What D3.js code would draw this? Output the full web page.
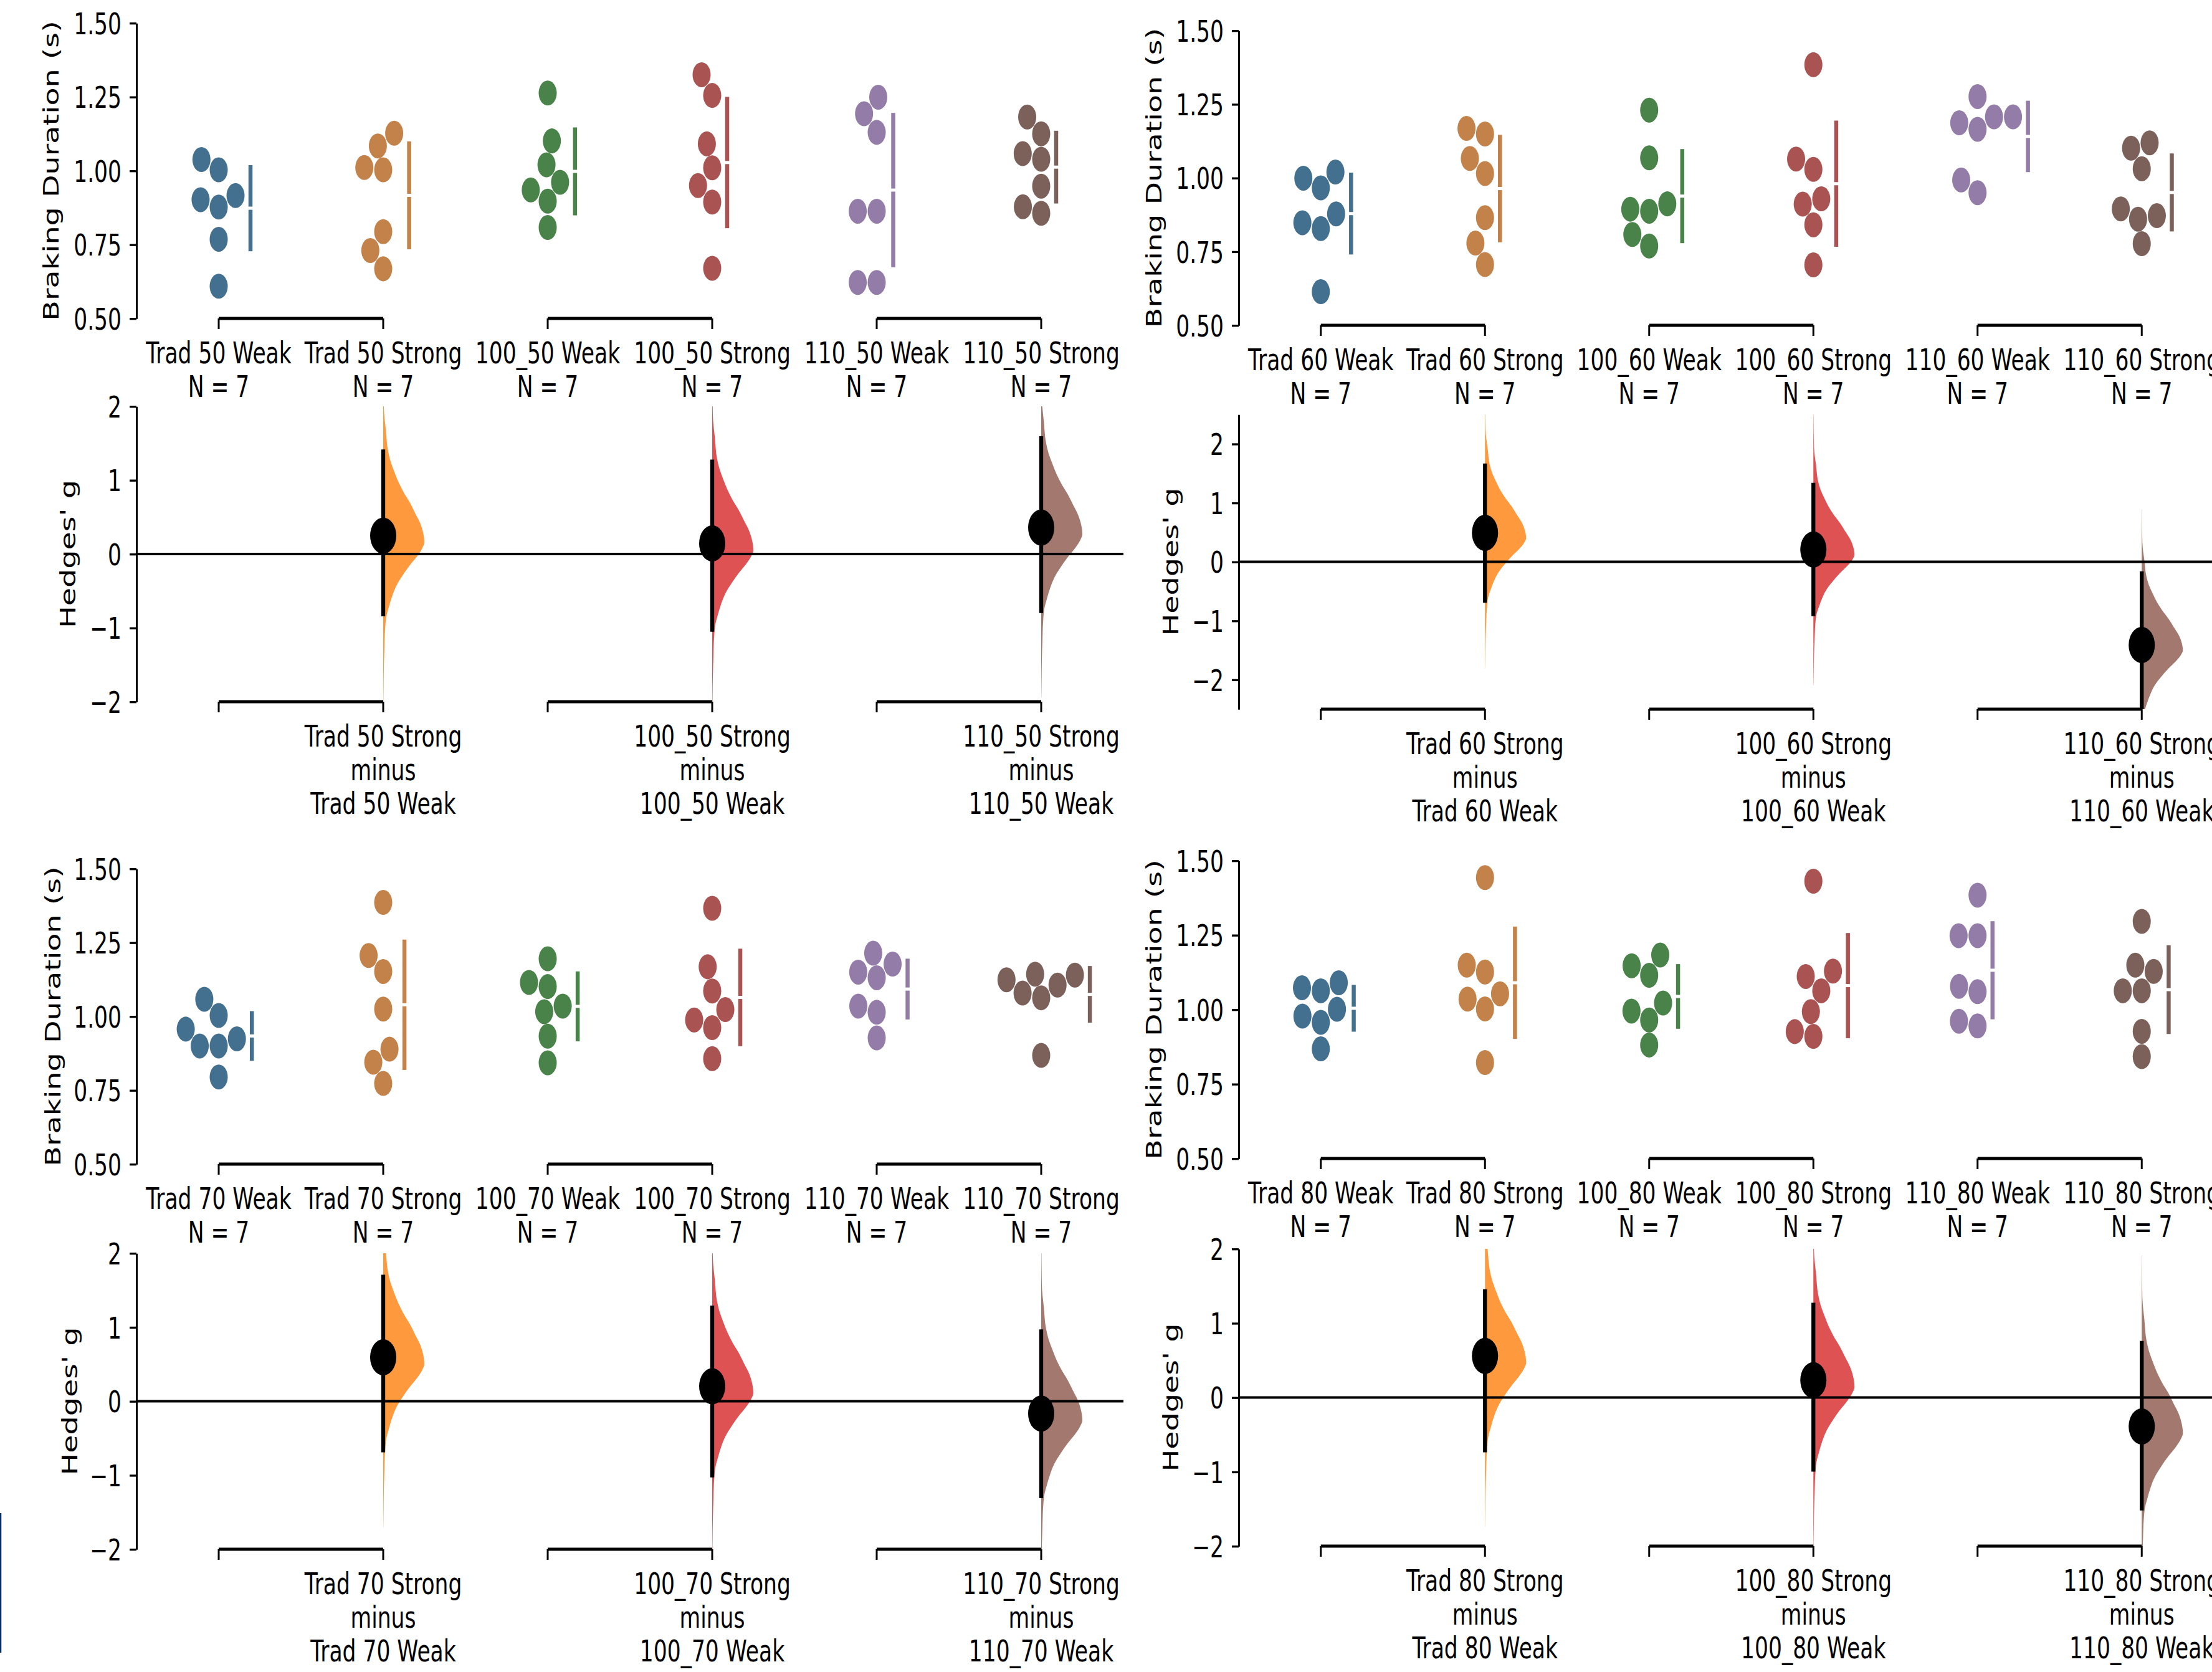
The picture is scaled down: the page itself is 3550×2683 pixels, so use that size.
<!DOCTYPE html>
<html>
<head>
<meta charset="utf-8">
<script src="https://cdn.jsdelivr.net/npm/d3@7"></script>
<style>
  html, body { margin: 0; padding: 0; background: #fff; }
  svg { display: block; }
  text { font-family: "DejaVu Sans", sans-serif; fill: #000; }
</style>
</head>
<body>
<svg id="chart" width="3550" height="2683"></svg>
<script>
// ---- group labels ----
const labels50 = ['Trad 50 Weak', 'Trad 50 Strong', '100_50 Weak', '100_50 Strong', '110_50 Weak', '110_50 Strong'];
const labels60 = ['Trad 60 Weak', 'Trad 60 Strong', '100_60 Weak', '100_60 Strong', '110_60 Weak', '110_60 Strong'];
const labels70 = ['Trad 70 Weak', 'Trad 70 Strong', '100_70 Weak', '100_70 Strong', '110_70 Weak', '110_70 Strong'];
const labels80 = ['Trad 80 Weak', 'Trad 80 Strong', '100_80 Weak', '100_80 Strong', '110_80 Weak', '110_80 Strong'];

// ---- braking duration (s), one row per group ----
const braking50 = [
  [1.038, 1.003, 0.916, 0.902, 0.877, 0.768, 0.609],
  [1.127, 1.084, 1.011, 1.003, 0.794, 0.730, 0.668],
  [1.263, 1.101, 1.020, 0.961, 0.935, 0.897, 0.808],
  [1.325, 1.255, 1.091, 1.010, 0.950, 0.894, 0.670],
  [1.249, 1.193, 1.130, 0.863, 0.863, 0.622, 0.622],
  [1.182, 1.125, 1.058, 1.039, 0.948, 0.878, 0.856]
];
const braking60 = [
  [1.020, 0.999, 0.966, 0.878, 0.848, 0.828, 0.614],
  [1.168, 1.149, 1.066, 1.015, 0.865, 0.779, 0.706],
  [1.230, 1.068, 0.912, 0.894, 0.887, 0.808, 0.769],
  [1.384, 1.064, 1.029, 0.929, 0.911, 0.841, 0.705],
  [1.276, 1.207, 1.207, 1.187, 1.165, 0.993, 0.950],
  [1.119, 1.101, 1.031, 0.895, 0.872, 0.860, 0.777]
];
const braking70 = [
  [1.058, 1.003, 0.957, 0.924, 0.900, 0.900, 0.795],
  [1.386, 1.206, 1.152, 1.025, 0.889, 0.845, 0.773],
  [1.195, 1.115, 1.101, 1.035, 1.016, 0.933, 0.843],
  [1.366, 1.168, 1.086, 1.023, 0.988, 0.962, 0.857],
  [1.214, 1.177, 1.150, 1.131, 1.035, 1.014, 0.927],
  [1.143, 1.140, 1.124, 1.106, 1.079, 1.063, 0.868]
];
const braking80 = [
  [1.090, 1.073, 1.063, 1.001, 0.978, 0.957, 0.868],
  [1.443, 1.149, 1.126, 1.053, 1.035, 1.002, 0.822],
  [1.183, 1.147, 1.115, 1.022, 0.995, 0.965, 0.881],
  [1.431, 1.129, 1.111, 1.063, 0.993, 0.926, 0.910],
  [1.384, 1.248, 1.248, 1.078, 1.060, 0.961, 0.945],
  [1.296, 1.149, 1.128, 1.063, 1.063, 0.927, 0.842]
];

// ---- Hedges' g (Strong minus Weak) with 95% CI ----
const hedges50 = [0.248, 0.143, 0.358];
const ciLow50  = [-0.844, -1.052, -0.799];
const ciHigh50 = [1.415, 1.278, 1.595];

const hedges60 = [0.491, 0.208, -1.412];
const ciLow60  = [-0.694, -0.921, -2.65];
const ciHigh60 = [1.667, 1.341, -0.161];

const hedges70 = [0.594, 0.202, -0.167];
const ciLow70  = [-0.691, -1.029, -1.309];
const ciHigh70 = [1.709, 1.293, 0.971];

const hedges80 = [0.560, 0.232, -0.390];
const ciLow80  = [-0.738, -0.997, -1.519];
const ciHigh80 = [1.457, 1.275, 0.761];

// bootstrap distribution outline (offset from g, relative width)
const violinOffset  = [2.3, 1.74, 1.43, 1.15, 1.01, 0.87, 0.73, 0.59, 0.45, 0.31, 0.17, 0.03, -0.09, -0.17,
                       -0.28, -0.40, -0.54, -0.68, -0.82, -0.96, -1.10, -1.24, -1.52, -1.80, -2.08, -2.3];
const violinDensity = [0.004, 0.015, 0.065, 0.117, 0.177, 0.268, 0.368, 0.495, 0.647, 0.773, 0.899, 0.975, 1.0, 0.95,
                       0.823, 0.647, 0.47, 0.318, 0.217, 0.141, 0.076, 0.05, 0.03, 0.015, 0.008, 0.003];

const swarmTicks = [0.5, 0.75, 1.0, 1.25, 1.5];
const hedgesTicks = [-2, -1, 0, 1, 2];

// desaturated tab10 for the swarms, plain tab10 for the bootstrap curves
const swarmColors = ['#44708f', '#c3824a', '#498349', '#aa5353', '#937ca8', '#7c615b'];
const violinColors = ['#ff7f0e', '#d62728', '#8c564b'];

// ---- layout ----
const K = 1.38;          // the source figure is stretched vertically
const fontSize = 34.5;
const R = 14.5;          // swarm dot radius
const iy = v => v / K;   // full-res y -> inner y

const svg = d3.select('#chart');
svg.append('rect').attr('width', 3550).attr('height', 2683).attr('fill', '#fff');
const defs = svg.append('defs');
const root = svg.append('g').attr('transform', `scale(1,${K})`);

const cols = [{ axisX: 219, step: 264 }, { axisX: 1988, step: 263.5 }];

const panels = [
  { labels: labels50, values: braking50, g: hedges50, lo: ciLow50, hi: ciHigh50, col: 0,
    swarmY: [37, 511], hedgesY: [652, 1126], hedgesDomain: [-2, 2], brakeX: 82, hedgeX: 109 },
  { labels: labels60, values: braking60, g: hedges60, lo: ciLow60, hi: ciHigh60, col: 1,
    swarmY: [49, 522], hedgesY: [665, 1138], hedgesDomain: [-2.5, 2.5], brakeX: 1852, hedgeX: 1879 },
  { labels: labels70, values: braking70, g: hedges70, lo: ciLow70, hi: ciHigh70, col: 0,
    swarmY: [1394, 1868], hedgesY: [2011, 2486], hedgesDomain: [-2, 2], brakeX: 85, hedgeX: 112 },
  { labels: labels80, values: braking80, g: hedges80, lo: ciLow80, hi: ciHigh80, col: 1,
    swarmY: [1381, 1859], hedgesY: [2004, 2481], hedgesDomain: [-2, 2], brakeX: 1852, hedgeX: 1879 }
];

// seaborn-style beeswarm
function swarm(values, cx, y, r) {
  const order = d3.range(values.length).sort((a, b) => values[a] - values[b]);
  const placed = [];
  const out = new Array(values.length);
  order.forEach(i => {
    const yi = y(values[i]);
    const nb = placed.filter(p => Math.abs(p.y - yi) < 2 * r);
    const cands = [cx];
    let leftFirst = true;
    nb.forEach(p => {
      const dy = yi - p.y;
      const dx = Math.sqrt(Math.max(4 * r * r - dy * dy, 0)) * 1.05;
      if (leftFirst) cands.push(p.x - dx, p.x + dx); else cands.push(p.x + dx, p.x - dx);
      leftFirst = !leftFirst;
    });
    const sorted = cands.map((c, k) => ({ c, k }))
      .sort((a, b) => (Math.abs(a.c - cx) - Math.abs(b.c - cx)) || (a.k - b.k));
    let xi = cx;
    for (const { c } of sorted) {
      if (nb.every(p => (c - p.x) ** 2 + (yi - p.y) ** 2 >= 4 * r * r - 1e-6)) { xi = c; break; }
    }
    placed.push({ x: xi, y: yi });
    out[i] = { x: xi, y: yi };
  });
  return out;
}

function yAxis(g, y, axisX, ticks, fmt) {
  const ax = g.append('g').attr('transform', `translate(${axisX},0)`)
    .call(d3.axisLeft(y).tickValues(ticks).tickFormat(fmt)
      .tickSizeOuter(0).tickSizeInner(11).tickPadding(13));
  ax.select('.domain').attr('stroke', '#000').attr('stroke-width', 3);
  ax.selectAll('.tick line').attr('stroke', '#000').attr('stroke-width', 2.4);
  ax.selectAll('.tick text').attr('font-size', fontSize).attr('dy', '0.36em')
    .attr('font-family', '"DejaVu Sans", sans-serif').attr('fill', '#000');
}

function brackets(g, x, yBottom) {
  [0, 2, 4].forEach(i => {
    g.append('line').attr('x1', x(i)).attr('x2', x(i + 1))
      .attr('y1', yBottom).attr('y2', yBottom)
      .attr('stroke', '#000').attr('stroke-width', 3.6);
    [i, i + 1].forEach(j => g.append('line')
      .attr('x1', x(j)).attr('x2', x(j))
      .attr('y1', yBottom).attr('y2', yBottom + iy(17))
      .attr('stroke', '#000').attr('stroke-width', 3));
  });
}

function multiLine(g, x, yBase, lines) {
  const t = g.append('text').attr('text-anchor', 'middle').attr('font-size', fontSize);
  lines.forEach((s, k) => t.append('tspan').attr('x', x).attr('y', yBase + k * iy(54)).text(s));
}

function rotatedLabel(g, x, yMid, s) {
  g.append('text')
    .attr('transform', `translate(${x},${yMid}) rotate(-90)`)
    .attr('text-anchor', 'middle').attr('dy', '0.36em')
    .attr('font-size', fontSize).text(s);
}

panels.forEach((p, pi) => {
  const col = cols[p.col];
  const x = d3.scaleLinear().domain([-0.5, 5.5]).range([col.axisX, col.axisX + 6 * col.step]);

  // ---- swarm panel ----
  const gs = root.append('g');
  const yS = d3.scaleLinear().domain([0.5, 1.5]).range([iy(p.swarmY[1]), iy(p.swarmY[0])]);
  yAxis(gs, yS, col.axisX, swarmTicks, d3.format('.2f'));
  rotatedLabel(gs, p.brakeX, iy((p.swarmY[0] + p.swarmY[1]) / 2), 'Braking Duration (s)');
  brackets(gs, x, iy(p.swarmY[1]));

  p.values.forEach((vals, i) => {
    const pts = swarm(vals, x(i), yS, R);
    gs.append('g').selectAll('circle').data(pts).join('circle')
      .attr('cx', d => d.x).attr('cy', d => d.y).attr('r', R)
      .attr('fill', swarmColors[i]);

    const m = d3.mean(vals), sd = d3.deviation(vals);
    const lx = d3.max(pts, d => d.x) + R + 9.5;
    const gap = iy(5) / 2;
    gs.append('line').attr('x1', lx).attr('x2', lx)
      .attr('y1', yS(m + sd)).attr('y2', yS(m) - gap)
      .attr('stroke', swarmColors[i]).attr('stroke-width', 6.5);
    gs.append('line').attr('x1', lx).attr('x2', lx)
      .attr('y1', yS(m) + gap).attr('y2', yS(m - sd))
      .attr('stroke', swarmColors[i]).attr('stroke-width', 6.5);

    multiLine(gs, x(i), iy(p.swarmY[1] + 72), [p.labels[i], `N = ${vals.length}`]);
  });

  // ---- Hedges' g panel ----
  const gh = root.append('g');
  const yH = d3.scaleLinear().domain(p.hedgesDomain).range([iy(p.hedgesY[1]), iy(p.hedgesY[0])]);
  yAxis(gh, yH, col.axisX, hedgesTicks, d3.format('d'));
  rotatedLabel(gh, p.hedgeX, iy((p.hedgesY[0] + p.hedgesY[1]) / 2), "Hedges' g");
  brackets(gh, x, iy(p.hedgesY[1]));

  const clipId = `clip-h${pi}`;
  defs.append('clipPath').attr('id', clipId)
    .attr('clipPathUnits', 'userSpaceOnUse')
    .append('rect').attr('x', 0).attr('width', 3550)
    .attr('y', iy(p.hedgesY[0]) * K).attr('height', (iy(p.hedgesY[1]) - iy(p.hedgesY[0])) * K);
  // clip rect is applied in the outer (unscaled) space
  const clipped = svg.append('g').attr('clip-path', `url(#${clipId})`)
    .append('g').attr('transform', `scale(1,${K})`);

  const wScale = d3.scaleLinear().domain([0, 1]).range([0, 66]);
  p.g.forEach((gv, k) => {
    const cx = x(2 * k + 1);
    const prof = violinOffset.map((o, j) => ({ y: yH(gv + o), w: violinDensity[j] }));
    const area = d3.area().y(d => d.y).x0(cx).x1(d => cx + wScale(d.w)).curve(d3.curveMonotoneY);
    clipped.append('path').attr('d', area(prof))
      .attr('fill', violinColors[k]).attr('fill-opacity', 0.8);
  });

  clipped.append('line')
    .attr('x1', col.axisX).attr('x2', x(5.5))
    .attr('y1', yH(0)).attr('y2', yH(0))
    .attr('stroke', '#000').attr('stroke-width', iy(4));

  p.g.forEach((gv, k) => {
    const cx = x(2 * k + 1);
    clipped.append('line').attr('x1', cx).attr('x2', cx)
      .attr('y1', yH(p.lo[k])).attr('y2', yH(p.hi[k]))
      .attr('stroke', '#000').attr('stroke-width', 6.3);
    clipped.append('circle').attr('cx', cx).attr('cy', yH(gv)).attr('r', 21).attr('fill', '#000');
    const i = 2 * k + 1;
    multiLine(gh, cx, iy(p.hedgesY[1] + 72), [p.labels[i], 'minus', p.labels[i - 1]]);
  });
});

// thin navy mark at the left edge of the page
svg.append('line').attr('x1', 1).attr('x2', 1).attr('y1', 2428).attr('y2', 2652)
  .attr('stroke', '#0b2d5e').attr('stroke-width', 2.5);
</script>
</body>
</html>
